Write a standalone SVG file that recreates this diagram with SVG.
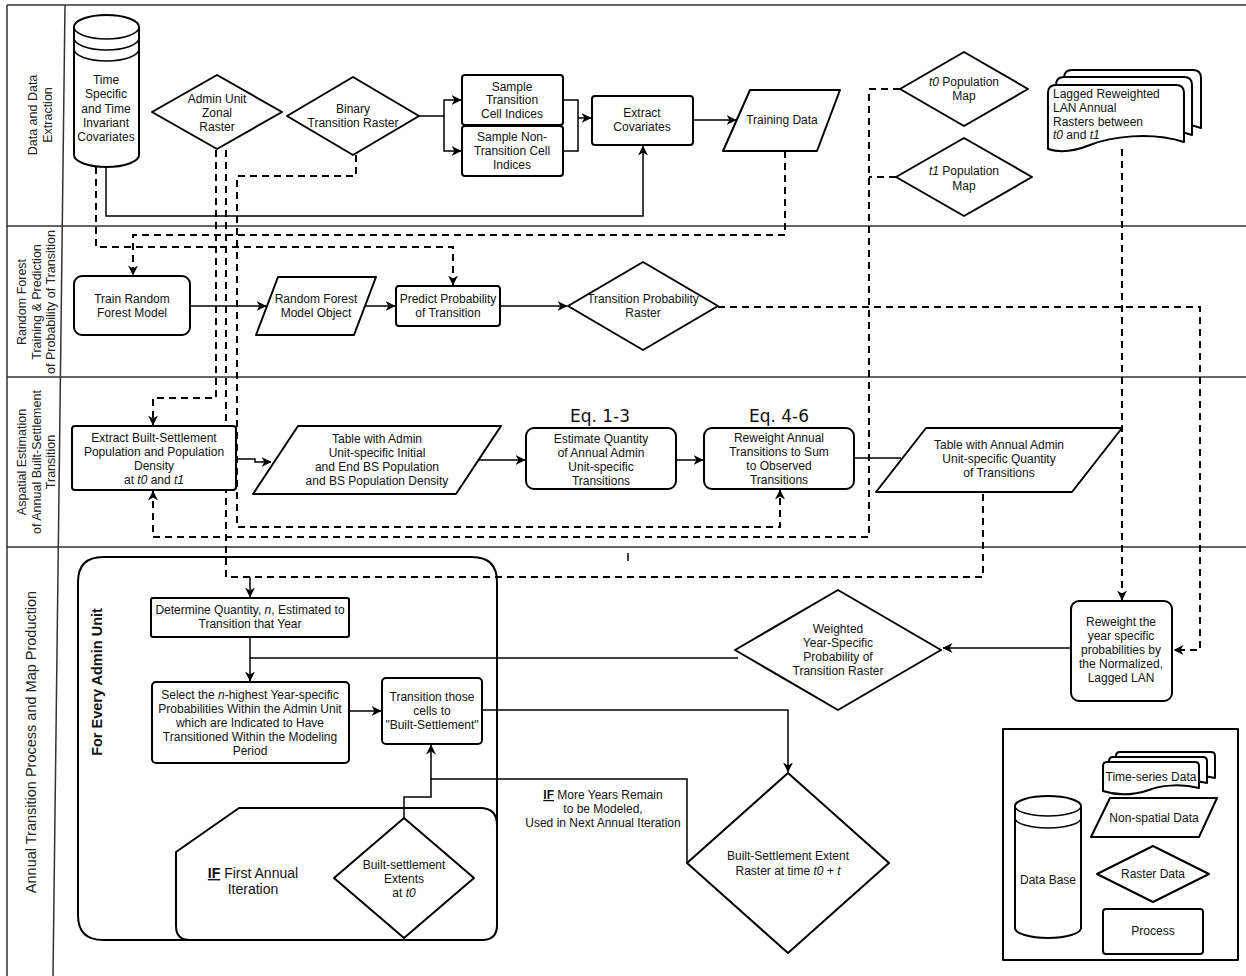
<svg xmlns="http://www.w3.org/2000/svg" width="1246" height="976" viewBox="0 0 1246 976">
<defs>
<marker id="ar" viewBox="0 0 10 10" refX="9.5" refY="5" markerWidth="10" markerHeight="10" markerUnits="userSpaceOnUse" orient="auto"><path d="M0,0 L10,5 L0,10 L3,5 Z" fill="#000"/></marker>
<style>
.n{fill:#fff;stroke:#000;stroke-width:2;stroke-linejoin:round}
.t{font-family:"Liberation Sans",Arial,sans-serif;font-size:12px;text-anchor:middle;fill:#111}
.l{font-family:"Liberation Sans",Arial,sans-serif;font-size:12.5px;text-anchor:middle;fill:#222}
.c{fill:none;stroke:#000;stroke-width:1.5}
.d{fill:none;stroke:#000;stroke-width:2;stroke-dasharray:7 5}
.eq{font-family:"DejaVu Sans",sans-serif;font-size:17px;text-anchor:middle;fill:#111}
.lane{stroke:#333;stroke-width:1.5;fill:none}
</style>
</defs>
<rect width="1246" height="976" fill="#fff"/>
<g id="lanes">
<path class="lane" d="M7,5 H1246 M7,5 V976 M7,226 H1246 M7,377 H1246 M7,547 H1246 M65,5 L53,976"/>
<text class="l" transform="rotate(-90)" x="-115" y="37">Data and Data</text>
<text class="l" transform="rotate(-90)" x="-115" y="52">Extraction</text>
<text class="l" transform="rotate(-90)" x="-302" y="26">Random Forest</text>
<text class="l" transform="rotate(-90)" x="-302" y="41">Training &amp; Prediction</text>
<text class="l" transform="rotate(-90)" x="-302" y="55">of Probability of Transition</text>
<text class="l" transform="rotate(-90)" x="-462" y="26">Aspatial Estimation</text>
<text class="l" transform="rotate(-90)" x="-462" y="41">of Annual Built-Settlement</text>
<text class="l" transform="rotate(-90)" x="-462" y="55">Transition</text>
<text class="l" transform="rotate(-90)" x="-742" y="36" style="font-size:14.5px">Annual Transition Process and Map Production</text>
</g>
<g id="container">
<path class="n" d="M103,557 H472 Q497,557 497,582 V915 Q497,940 472,940 H103 Q78,940 78,915 V582 Q78,557 103,557 Z"/>
<path class="n" d="M176,852 L239,808 H480 Q497,808 497,825 V925 Q497,940 482,940 H190 Q176,940 176,926 Z"/>
<text class="t" transform="rotate(-90)" x="-682" y="102" style="font-size:14.5px;font-weight:bold">For Every Admin Unit</text>
<text class="t" x="253" y="878" style="font-size:14px"><tspan font-weight="bold" text-decoration="underline">IF</tspan> First Annual</text>
<text class="t" x="253" y="894" style="font-size:14px">Iteration</text>
</g>
<g id="connectors">
<path class="c" d="M419,116 H444 V100 H461" marker-end="url(#ar)"/>
<path class="c" d="M444,116 V151 H461" marker-end="url(#ar)"/>
<path class="c" d="M563,100 H578 V151 H563"/>
<path class="c" d="M578,118 H591" marker-end="url(#ar)"/>
<path class="c" d="M693,120 H736" marker-end="url(#ar)"/>
<path class="c" d="M106,167 V216 H643 V146" marker-end="url(#ar)"/>
<path class="c" d="M190,306 H266" marker-end="url(#ar)"/>
<path class="c" d="M365,306 H395" marker-end="url(#ar)"/>
<path class="c" d="M500,306 H567" marker-end="url(#ar)"/>
<path class="c" d="M236,459 H255 V462 H271" marker-end="url(#ar)"/>
<path class="c" d="M478,460 H525" marker-end="url(#ar)"/>
<path class="c" d="M676,460 H703" marker-end="url(#ar)"/>
<path class="c" d="M854,458 H901"/>
<path class="c" d="M250,637 V681" marker-end="url(#ar)"/>
<path class="c" d="M738,658 H250"/>
<path class="c" d="M349,711 H381" marker-end="url(#ar)"/>
<path class="c" d="M482,710 H788 V772" marker-end="url(#ar)"/>
<path class="c" d="M687,863 V779 H431 V745" marker-end="url(#ar)"/>
<path class="c" d="M404,818 V797 H431 V779"/>
<path class="c" d="M1071,648 H943" marker-end="url(#ar)"/>
<path class="c" d="M250,577 V597" marker-end="url(#ar)"/>
<path class="d" d="M96,167 V247 H453 V285" marker-end="url(#ar)"/>
<path class="d" d="M785,151 V235 H133 V275" marker-end="url(#ar)"/>
<path class="d" d="M216,150 V398 H153 V425" marker-end="url(#ar)"/>
<path class="d" d="M226,150 V577 H983 V493"/>
<path class="d" d="M356,155 V176 H237 V527 H780 V490" marker-end="url(#ar)"/>
<path class="d" d="M900,89 H869 V537 H153 V491" marker-end="url(#ar)"/>
<path class="d" d="M896,177 H869"/>
<path class="d" d="M1122,149 V600" marker-end="url(#ar)"/>
<path class="d" d="M718,307 H1200 V650 H1174" marker-end="url(#ar)"/>
<path class="c" d="M628,553 V561" stroke-width="1"/>
<text class="t" x="603" y="799"><tspan font-weight="bold" text-decoration="underline">IF</tspan> More Years Remain</text>
<text class="t" x="603" y="813">to be Modeled,</text>
<text class="t" x="603" y="827">Used in Next Annual Iteration</text>
</g>
<g id="covariates">
<path class="n" d="M74,27 A32.5,12 0 0 1 139,27 V155 A32.5,12 0 0 1 74,155 Z"/>
<path class="c" stroke-width="2" d="M74,27 A32.5,12 0 0 0 139,27 M74,38 A32.5,12 0 0 0 139,38 M74,49 A32.5,12 0 0 0 139,49"/>
<text class="t" x="106" y="84">Time</text>
<text class="t" x="106" y="98">Specific</text>
<text class="t" x="106" y="113">and Time</text>
<text class="t" x="106" y="127">Invariant</text>
<text class="t" x="106" y="141">Covariates</text>
</g>
<g id="admin-raster">
<polygon class="n" points="217,75 282,112 217,149 152,112"/>
<text class="t" x="217" y="103">Admin Unit</text>
<text class="t" x="217" y="117">Zonal</text>
<text class="t" x="217" y="131">Raster</text>
</g>
<g id="binary-raster">
<polygon class="n" points="353,77 419,116 353,155 287,116"/>
<text class="t" x="353" y="113">Binary</text>
<text class="t" x="353" y="127">Transition Raster</text>
</g>
<g id="sample-transition">
<rect class="n" x="462" y="75" width="101" height="50" rx="3"/>
<text class="t" x="512" y="91">Sample</text>
<text class="t" x="512" y="104">Transition</text>
<text class="t" x="512" y="118">Cell Indices</text>
</g>
<g id="sample-non-transition">
<rect class="n" x="462" y="126" width="101" height="50" rx="3"/>
<text class="t" x="512" y="141">Sample Non-</text>
<text class="t" x="512" y="155">Transition Cell</text>
<text class="t" x="512" y="169">Indices</text>
</g>
<g id="extract-covariates">
<rect class="n" x="592" y="96" width="101" height="49" rx="3"/>
<text class="t" x="642" y="117">Extract</text>
<text class="t" x="642" y="131">Covariates</text>
</g>
<g id="training-data">
<polygon class="n" points="750,90 840,90 817,151 723,151"/>
<text class="t" x="782" y="124">Training Data</text>
</g>
<g id="t0-pop">
<polygon class="n" points="964,52 1028,89 964,126 900,89"/>
<text class="t" x="964" y="86"><tspan font-style="italic">t0</tspan> Population</text>
<text class="t" x="964" y="100">Map</text>
</g>
<g id="t1-pop">
<polygon class="n" points="964,138 1032,177 964,216 896,177"/>
<text class="t" x="964" y="175"><tspan font-style="italic">t1</tspan> Population</text>
<text class="t" x="964" y="190">Map</text>
</g>
<g id="lagged-lan">
<path class="n" d="M1072,70 H1193 Q1201,70 1201,78 V128 C1167,116 1127,122 1107,130 C1092,136 1077,138 1064,134 V78 Q1064,70 1072,70 Z"/>
<path class="n" d="M1064,77 H1184 Q1192,77 1192,85 V135 C1158,123 1118,129 1098,137 C1083,143 1068,145 1056,141 V85 Q1056,77 1064,77 Z"/>
<path class="n" d="M1056,85 H1176 Q1184,85 1184,93 V142 C1150,131 1110,137 1090,145 C1075,151 1060,153 1048,149 V93 Q1048,85 1056,85 Z"/>
<text class="t" x="1053" y="98" style="text-anchor:start">Lagged Reweighted</text>
<text class="t" x="1053" y="112" style="text-anchor:start">LAN Annual</text>
<text class="t" x="1053" y="126" style="text-anchor:start">Rasters between</text>
<text class="t" x="1053" y="139" style="text-anchor:start"><tspan font-style="italic">t0</tspan> and <tspan font-style="italic">t1</tspan></text>
</g>
<g id="train-rf">
<rect class="n" x="74" y="276" width="116" height="59" rx="8"/>
<text class="t" x="132" y="303">Train Random</text>
<text class="t" x="132" y="317">Forest Model</text>
</g>
<g id="rf-object">
<polygon class="n" points="278,277 376,277 354,335 256,335"/>
<text class="t" x="316" y="303">Random Forest</text>
<text class="t" x="316" y="317">Model Object</text>
</g>
<g id="predict">
<rect class="n" x="396" y="286" width="104" height="40" rx="3"/>
<text class="t" x="448" y="303">Predict Probability</text>
<text class="t" x="448" y="317">of Transition</text>
</g>
<g id="tpr">
<polygon class="n" points="643,262 718,306 643,350 568,306"/>
<text class="t" x="643" y="303">Transition Probability</text>
<text class="t" x="643" y="317">Raster</text>
</g>
<g id="extract-bs">
<rect class="n" x="72" y="426" width="164" height="64" rx="3"/>
<text class="t" x="154" y="442">Extract Built-Settlement</text>
<text class="t" x="154" y="456">Population and Population</text>
<text class="t" x="154" y="470">Density</text>
<text class="t" x="154" y="484">at <tspan font-style="italic">t0</tspan> and <tspan font-style="italic">t1</tspan></text>
</g>
<g id="table-initial">
<polygon class="n" points="298,426 501,426 456,494 253,494"/>
<text class="t" x="377" y="443">Table with Admin</text>
<text class="t" x="377" y="457">Unit-specific Initial</text>
<text class="t" x="377" y="471">and End BS Population</text>
<text class="t" x="377" y="485">and BS Population Density</text>
</g>
<g id="estimate">
<text class="eq" x="600" y="422">Eq. 1-3</text>
<rect class="n" x="526" y="428" width="150" height="61" rx="8"/>
<text class="t" x="601" y="443">Estimate Quantity</text>
<text class="t" x="601" y="457">of Annual Admin</text>
<text class="t" x="601" y="471">Unit-specific</text>
<text class="t" x="601" y="485">Transitions</text>
</g>
<g id="reweight-annual">
<text class="eq" x="779" y="422">Eq. 4-6</text>
<rect class="n" x="704" y="428" width="150" height="61" rx="8"/>
<text class="t" x="779" y="442">Reweight Annual</text>
<text class="t" x="779" y="456">Transitions to Sum</text>
<text class="t" x="779" y="470">to Observed</text>
<text class="t" x="779" y="484">Transitions</text>
</g>
<g id="table-annual">
<polygon class="n" points="926,428 1122,428 1072,492 876,492"/>
<text class="t" x="999" y="449">Table with Annual Admin</text>
<text class="t" x="999" y="463">Unit-specific Quantity</text>
<text class="t" x="999" y="477">of Transitions</text>
</g>
<g id="determine">
<rect class="n" x="151" y="598" width="198" height="39" rx="2"/>
<text class="t" x="250" y="614">Determine Quantity, <tspan font-style="italic">n</tspan>, Estimated to</text>
<text class="t" x="250" y="628">Transition that Year</text>
</g>
<g id="select">
<rect class="n" x="152" y="682" width="197" height="81" rx="4"/>
<text class="t" x="250" y="699">Select the <tspan font-style="italic">n</tspan>-highest Year-specific</text>
<text class="t" x="250" y="713">Probabilities Within the Admin Unit</text>
<text class="t" x="250" y="727">which are Indicated to Have</text>
<text class="t" x="250" y="741">Transitioned Within the Modeling</text>
<text class="t" x="250" y="755">Period</text>
</g>
<g id="transition-cells">
<rect class="n" x="382" y="678" width="100" height="66" rx="4"/>
<text class="t" x="432" y="701">Transition those</text>
<text class="t" x="432" y="715">cells to</text>
<text class="t" x="432" y="729">"Built-Settlement"</text>
</g>
<g id="weighted-raster">
<polygon class="n" points="838,590 941,650 838,710 735,650"/>
<text class="t" x="838" y="633">Weighted</text>
<text class="t" x="838" y="647">Year-Specific</text>
<text class="t" x="838" y="661">Probability of</text>
<text class="t" x="838" y="675">Transition Raster</text>
</g>
<g id="reweight-prob">
<rect class="n" x="1071" y="601" width="101" height="100" rx="8"/>
<text class="t" x="1121" y="626">Reweight the</text>
<text class="t" x="1121" y="640">year specific</text>
<text class="t" x="1121" y="654">probabilities by</text>
<text class="t" x="1121" y="668">the Normalized,</text>
<text class="t" x="1121" y="682">Lagged LAN</text>
</g>
<g id="bse-extent">
<polygon class="n" points="788,773 889,863 788,953 687,863"/>
<text class="t" x="788" y="860">Built-Settlement Extent</text>
<text class="t" x="788" y="875">Raster at time <tspan font-style="italic">t0 + t</tspan></text>
</g>
<g id="bs-t0">
<polygon class="n" points="404,818 474,878 404,938 334,878"/>
<text class="t" x="404" y="869">Built-settlement</text>
<text class="t" x="404" y="883">Extents</text>
<text class="t" x="404" y="897">at <tspan font-style="italic">t0</tspan></text>
</g>
<g id="legend">
<rect class="n" x="1003" y="729" width="235" height="231"/>
<path class="n" d="M1015,806 A33,10 0 0 1 1081,806 V928 A33,10 0 0 1 1015,928 Z"/>
<path class="c" stroke-width="2" d="M1015,806 A33,10 0 0 0 1081,806 M1015,818 A33,10 0 0 0 1081,818"/>
<text class="t" x="1048" y="884">Data Base</text>
<path class="n" d="M1120,752 H1211 Q1215,752 1215,756 V778 C1195,773 1175,776 1165,780 C1150,785 1132,786 1116,781 V756 Q1116,752 1120,752 Z"/>
<path class="n" d="M1113,757 H1203 Q1207,757 1207,761 V783 C1187,778 1167,781 1157,785 C1142,790 1125,791 1109,786 V761 Q1109,757 1113,757 Z"/>
<path class="n" d="M1107,762 H1195 Q1199,762 1199,766 V788 C1179,783 1159,786 1149,790 C1134,795 1118,796 1103,791 V766 Q1103,762 1107,762 Z"/>
<text class="t" x="1151" y="781">Time-series Data</text>
<polygon class="n" points="1110,798 1217,798 1199,837 1091,837"/>
<text class="t" x="1154" y="822">Non-spatial Data</text>
<polygon class="n" points="1153,846 1209,874 1153,902 1097,874"/>
<text class="t" x="1153" y="878">Raster Data</text>
<rect class="n" x="1103" y="909" width="100" height="45" rx="3"/>
<text class="t" x="1153" y="935">Process</text>
</g>
</svg>
